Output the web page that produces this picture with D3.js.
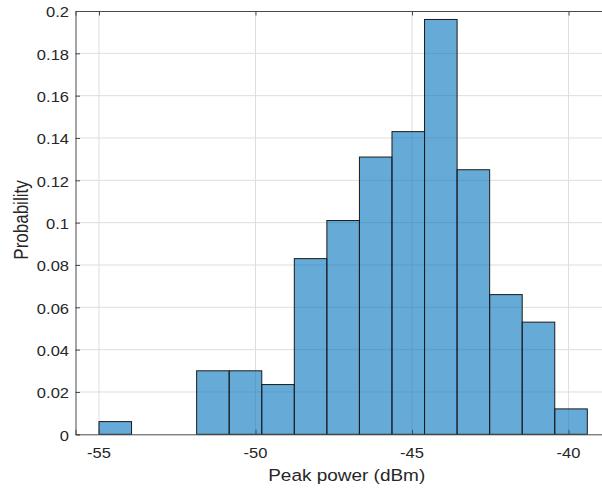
<!DOCTYPE html>
<html>
<head>
<meta charset="utf-8">
<script src="https://cdn.jsdelivr.net/npm/d3@7/dist/d3.min.js"></script>
<style>
  html, body { margin: 0; padding: 0; background: #fff; }
  svg { display: block; }
  text { font-family: "Liberation Sans", Arial, Helvetica, sans-serif; fill: #262626; }
</style>
</head>
<body>
<svg id="chart" width="602" height="491"></svg>
<script>
// Histogram of peak power, normalised to probability
const binEdges = [-55, -53.96, -52.92, -51.88, -50.84, -49.8, -48.76, -47.72,
                  -46.68, -45.64, -44.6, -43.56, -42.52, -41.48, -40.44, -39.4];
const probabilities = [0.006, 0, 0, 0.030, 0.030, 0.0235, 0.083, 0.101,
                       0.131, 0.143, 0.196, 0.125, 0.066, 0.053, 0.012];
const xTicks = [-55, -50, -45, -40];
const yTicks = [0, 0.02, 0.04, 0.06, 0.08, 0.1, 0.12, 0.14, 0.16, 0.18, 0.2];
const xLabel = "Peak power (dBm)";
const yLabel = "Probability";

const bins = probabilities.map((p, i) => ({ x0: binEdges[i], x1: binEdges[i + 1], p }));

const svg = d3.select("#chart");
const plotLeft = 75.5, plotRight = 618, plotTop = 11, plotBottom = 434.3;

const x = d3.scaleLinear().domain([-55.75, -38.42]).range([plotLeft, plotRight]);
const y = d3.scaleLinear().domain([0, 0.2]).range([plotBottom, plotTop]);

// grid lines
const grid = svg.append("g").attr("stroke", "#dedede").attr("stroke-width", 1);
grid.selectAll("line.gx").data(xTicks).join("line")
  .attr("x1", d => x(d)).attr("x2", d => x(d))
  .attr("y1", plotTop).attr("y2", plotBottom);
grid.selectAll("line.gy").data(yTicks.slice(1, -1)).join("line")
  .attr("x1", plotLeft).attr("x2", plotRight)
  .attr("y1", d => y(d)).attr("y2", d => y(d));

// bars (semi-transparent, so the grid shows through)
svg.append("g").selectAll("rect").data(bins.filter(b => b.p > 0)).join("rect")
  .attr("x", d => x(d.x0))
  .attr("y", d => y(d.p))
  .attr("width", d => x(d.x1) - x(d.x0))
  .attr("height", d => y(0) - y(d.p))
  .attr("fill", "#0072BD")
  .attr("fill-opacity", 0.6)
  .attr("stroke", "#1a1a1a")
  .attr("stroke-width", 1);

// axes: inward ticks on all drawn sides
const tickLen = 4.5;
const axisColor = "#4a4a4a";
const yAxis = d3.axisLeft(y).tickValues(yTicks).tickSize(-tickLen).tickPadding(0).tickFormat(() => "");
const xAxisB = d3.axisBottom(x).tickValues(xTicks).tickSize(-tickLen).tickFormat(() => "");
const xAxisT = d3.axisTop(x).tickValues(xTicks).tickSize(-tickLen).tickFormat(() => "");

[
  svg.append("g").attr("transform", `translate(${plotLeft},0)`).call(yAxis),
  svg.append("g").attr("transform", `translate(0,${plotBottom})`).call(xAxisB),
  svg.append("g").attr("transform", `translate(0,${plotTop})`).call(xAxisT)
].forEach(g => {
  g.select(".domain").attr("stroke", axisColor).attr("stroke-width", 1);
  g.selectAll(".tick line").attr("stroke", axisColor).attr("stroke-width", 1);
});

// tick labels
const fmt = d => String(d);
svg.append("g").selectAll("text").data(yTicks).join("text")
  .attr("transform", d => `translate(69,${y(d) + 6.3}) scale(1.18,1)`)
  .attr("text-anchor", "end")
  .style("font-size", "14px")
  .text(fmt);
svg.append("g").selectAll("text").data(xTicks).join("text")
  .attr("transform", d => `translate(${x(d)},458) scale(1.18,1)`)
  .attr("text-anchor", "middle")
  .style("font-size", "14px")
  .text(fmt);

// axis titles
svg.append("text")
  .attr("transform", `translate(346.7,481) scale(1.15,1)`)
  .attr("text-anchor", "middle")
  .style("font-size", "16.5px")
  .text(xLabel);
svg.append("text")
  .attr("transform", `translate(28,220) scale(1.15,1) rotate(-90)`)
  .attr("text-anchor", "middle")
  .style("font-size", "17px")
  .text(yLabel);
</script>
</body>
</html>
